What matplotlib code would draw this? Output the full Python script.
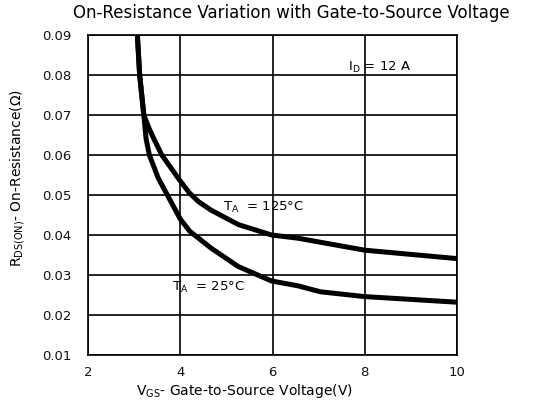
import matplotlib
matplotlib.use('Agg')
import matplotlib.pyplot as plt

plt.rcParams['font.family'] = ['DejaVu Sans']

# gate-source voltage (V) and on-resistance (ohm)
vgs_125 = [3.07, 3.12, 3.21, 3.33, 3.43, 3.60, 4.0, 4.2, 4.4, 4.67, 5.26, 5.98, 6.55, 8.0, 10.0]
rds_125 = [0.090, 0.080, 0.070, 0.0665, 0.064, 0.060, 0.0535, 0.0505, 0.0483, 0.0462, 0.0426, 0.0400, 0.0392, 0.0362, 0.0341]

vgs_25 = [3.07, 3.12, 3.21, 3.26, 3.33, 3.52, 4.0, 4.2, 4.67, 5.26, 5.98, 6.55, 7.04, 8.0, 10.0]
rds_25 = [0.090, 0.080, 0.070, 0.064, 0.060, 0.0543, 0.0440, 0.0410, 0.0367, 0.0321, 0.0285, 0.0273, 0.0258, 0.0246, 0.0232]

xticks = [2, 4, 6, 8, 10]
yticks = [0.01, 0.02, 0.03, 0.04, 0.05, 0.06, 0.07, 0.08, 0.09]

fig = plt.figure(figsize=(5.44, 4.05), dpi=100)
ax = fig.add_axes([88/544, 50/405, 369/544, 320/405])

ax.plot(vgs_125, rds_125, color='black', lw=3.6, solid_capstyle='round', solid_joinstyle='round')
ax.plot(vgs_25, rds_25, color='black', lw=3.6, solid_capstyle='round', solid_joinstyle='round')

ax.set_xlim(2, 10)
ax.set_ylim(0.01, 0.09)
ax.set_xticks(xticks)
ax.set_yticks(yticks)
ax.set_xticklabels([str(t) for t in xticks])
ax.set_yticklabels(['%.2f' % t for t in yticks])
ax.tick_params(length=0, labelsize=9.5, colors='#111111')
ax.tick_params(axis='y', pad=12)
ax.tick_params(axis='x', pad=8)
ax.grid(True, color='black', lw=1.2)
for s in ax.spines.values():
    s.set_linewidth(1.2)

ax.text(7.64, 0.0818, 'I$_{\\rm D}$ = 12 A', fontsize=9.5, va='center')
ax.text(4.93, 0.047, 'T$_{\\rm A}$  = 125°C', fontsize=9.5, va='center')
ax.text(3.82, 0.027, 'T$_{\\rm A}$  = 25°C', fontsize=9.5, va='center')

fig.text(291/544, 1 - 13/405, 'On-Resistance Variation with Gate-to-Source Voltage',
         fontsize=12, ha='center', va='center')
fig.text(244/544, 1 - 391/405, 'V$_{\\rm GS}$- Gate-to-Source Voltage(V)',
         fontsize=10, ha='center', va='center')
fig.text(18/544, 1 - 178/405, 'R$_{\\rm DS(ON)}$- On-Resistance(Ω)',
         fontsize=10, ha='center', va='center', rotation=90)

fig.savefig('out.png', dpi=100)
